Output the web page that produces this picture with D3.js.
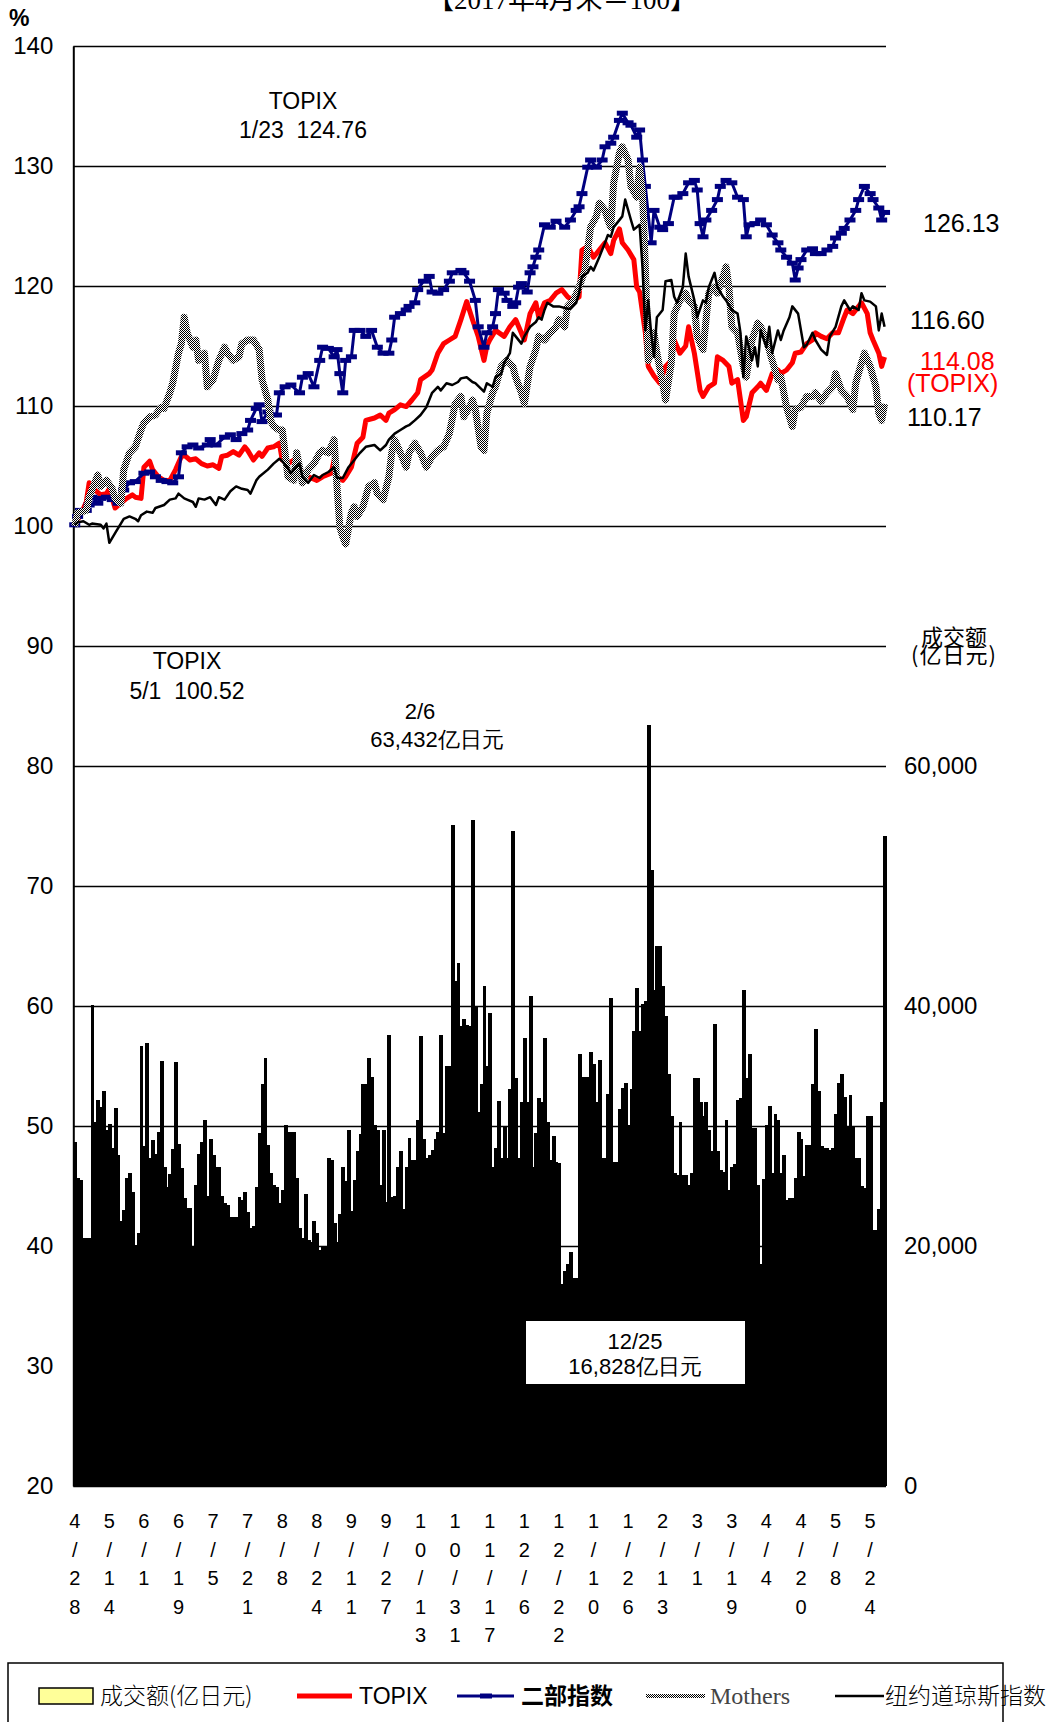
<!DOCTYPE html>
<html>
<head>
<meta charset="utf-8">
<style>
body { margin: 0; background: #fff; }
svg { display: block; }
text { font-family: "Liberation Sans", Arial, sans-serif; fill: #000; white-space: pre; }
.cjk { font-family: "Noto Sans CJK SC", sans-serif; }
.serif { font-family: "Liberation Serif", "Noto Sans CJK SC", serif; }
</style>
</head>
<body>
<div id="chart"></div>
<script src="https://d3js.org/d3.v7.min.js"></script>
<script>

// one label every 12 trading days, starting at day 0
var tickLabels = ["4/28","5/14","6/1","6/19","7/5","7/21","8/8","8/24","9/11","9/27",
  "10/13","10/31","11/17","12/6","12/22","1/10","1/26","2/13","3/1","3/19","4/4","4/20","5/8","5/24"];

// daily trading value (亿日元), day 0 .. 281
var volume = [
  28700,25700,25500,20700,20700,20700,40100,30300,32200,31600,
  32900,29700,30200,28200,31500,27600,22100,23000,25700,26100,
  24500,20100,21100,36700,28300,36900,27300,28800,27700,29500,
  35400,26600,24900,26000,28100,35300,28500,26500,24000,23200,
  23200,20000,25100,27700,28700,30500,24200,28900,27600,26600,
  26600,24200,23600,23400,22400,22400,22400,24100,23800,24500,
  22800,21500,21700,24900,29400,33500,35700,28400,26100,25100,
  24900,23600,24700,30100,29500,29500,29500,25700,21500,20700,
  24300,20500,20300,22100,21100,19700,19900,20000,27300,27200,
  21900,20300,22700,26600,25400,29700,22900,25500,27900,29300,
  33500,33500,35700,34100,30100,29700,25100,29700,23700,37600,
  24100,24200,26600,27900,23100,26600,29000,27200,27200,30500,
  37500,28900,27300,27600,28000,28900,29500,37600,29400,35000,
  35000,55100,42100,43600,38300,38900,38400,38300,55500,39900,
  31200,33500,41700,35000,39400,26600,28200,32100,27300,29900,
  27300,33100,54600,34000,27300,32000,37300,32000,40800,26600,
  29400,32300,32000,37300,30300,27200,29200,27000,26900,16828,
  17900,18500,19500,17300,17300,36000,34100,34100,34100,36200,
  35200,32000,35500,27300,27300,32700,40700,27000,27000,31400,
  33200,33600,30100,33100,37900,41500,37900,40200,40400,63432,
  51300,41300,45000,45000,41700,39200,34300,30800,26100,25900,
  30300,25900,25900,25100,26100,34000,34000,32000,30800,32000,
  29700,27900,38500,27900,26300,26200,30500,24700,26600,26800,
  32200,32300,41300,34000,36000,29800,29800,25100,18500,25600,
  30100,31700,26100,31000,30500,26100,27600,23800,24000,24000,
  25700,29500,28900,25800,28400,28400,33500,38100,32900,28300,
  28200,28200,28000,28200,31000,33600,34300,32400,30000,32600,
  30000,27300,27300,25000,24800,30800,30800,21300,21300,23100,
  32000,54200
];

// [day, index value] (2017年4月末=100)
var topix = [[0,100.0],[1,100.52],[2,100.9],[4,102.0],[5,103.6],[7,103.0],[9,102.6],[11,102.7],[12,103.1],[14,101.5],[16,101.9],[18,102.3],[20,102.6],[21,102.4],[23,102.3],[24,104.9],[26,105.4],[27,104.7],[29,104.1],[31,103.8],[33,103.8],[35,104.7],[37,105.8],[38,105.9],[40,105.5],[42,105.6],[44,105.2],[46,105.0],[48,105.1],[50,104.8],[51,105.8],[53,105.9],[55,106.2],[57,105.9],[59,106.6],[60,106.3],[62,105.5],[64,106.1],[65,105.8],[67,106.5],[69,106.6],[71,106.9],[72,105.5],[74,105.2],[76,105.5],[78,104.7],[80,104.25],[82,104.0],[84,103.8],[86,104.1],[89,104.4],[90,105.5],[91,104.1],[93,103.8],[94,104.1],[96,104.9],[98,106.9],[100,107.4],[101,108.8],[104,109.0],[106,109.25],[108,108.8],[109,109.4],[111,109.7],[113,110.1],[115,109.95],[117,110.5],[119,111.1],[120,112.2],[123,112.7],[124,113.0],[126,114.4],[128,115.2],[130,115.5],[132,115.8],[134,117.2],[136,118.7],[138,117.2],[140,115.8],[142,113.8],[143,115.0],[144,115.5],[146,116.3],[149,115.8],[151,116.6],[153,117.2],[156,115.5],[158,117.7],[160,118.6],[161,117.4],[163,118.6],[165,118.8],[167,119.4],[169,119.7],[171,119.1],[173,118.8],[175,119.1],[176,123.0],[178,123.3],[180,122.4],[182,123.0],[184,123.6],[186,122.7],[187,123.8],[189,124.76],[190,123.6],[192,123.0],[194,122.2],[195,119.9],[196,119.5],[198,116.1],[199,113.3],[201,112.5],[203,111.9],[205,113.3],[207,113.8],[208,115.5],[210,114.4],[212,115.0],[213,116.6],[215,114.4],[217,111.3],[218,110.8],[220,111.6],[222,111.9],[223,114.1],[225,113.8],[227,113.3],[228,111.9],[230,112.2],[232,108.8],[233,109.1],[235,111.1],[237,111.6],[238,111.9],[240,111.3],[242,112.7],[244,113.0],[245,112.7],[247,113.0],[249,113.6],[250,114.4],[252,114.5],[254,115.2],[256,115.5],[257,116.1],[259,115.8],[261,115.6],[263,116.1],[265,116.1],[267,117.4],[268,118.0],[270,117.7],[272,118.3],[273,118.6],[275,117.7],[276,116.1],[277,115.5],[279,114.4],[280,113.3],[281,114.08]];

var nibu = [[0,100.1],[1,100.8],[2,101.3],[4,101.3],[5,101.75],[6,102.4],[8,101.9],[9,102.3],[11,102.4],[13,102.2],[15,101.9],[17,103.0],[19,103.6],[21,103.7],[24,104.4],[26,104.5],[28,104.1],[30,103.8],[32,103.7],[34,103.6],[36,104.1],[37,106.1],[39,106.6],[41,106.75],[43,106.5],[46,106.75],[47,107.2],[49,106.75],[52,107.4],[54,107.6],[56,107.2],[58,107.7],[60,108.0],[61,108.8],[63,109.8],[64,110.1],[65,108.7],[67,109.5],[70,109.25],[71,111.1],[73,111.6],[75,111.75],[78,111.1],[79,112.4],[81,112.7],[83,111.6],[85,113.8],[86,114.9],[88,114.8],[90,114.1],[91,114.7],[92,112.7],[93,111.1],[94,113.8],[96,114.1],[97,116.3],[99,116.3],[101,115.8],[103,116.3],[105,114.9],[107,114.4],[109,114.4],[110,115.5],[111,117.4],[113,117.7],[115,118.0],[116,118.3],[118,118.6],[119,119.7],[121,120.4],[123,120.8],[124,119.5],[126,119.4],[128,119.7],[130,120.4],[131,121.1],[134,121.3],[135,121.1],[137,120.4],[139,118.8],[140,116.6],[142,114.9],[143,116.1],[145,116.6],[146,117.7],[147,119.7],[149,119.4],[150,118.8],[152,118.3],[153,118.6],[154,119.9],[155,120.2],[157,119.5],[158,121.1],[159,121.6],[160,122.4],[161,123.0],[163,125.1],[165,124.9],[167,125.4],[170,124.9],[172,125.5],[174,126.3],[175,126.6],[176,127.7],[178,129.9],[179,130.5],[181,129.9],[183,130.5],[184,131.6],[186,131.9],[187,132.4],[189,133.8],[190,134.4],[192,133.6],[193,133.4],[195,132.4],[196,133.0],[197,130.5],[198,128.3],[200,123.6],[201,126.3],[203,124.9],[204,124.7],[206,125.2],[208,127.4],[209,127.4],[211,127.7],[213,128.6],[215,128.8],[216,128.0],[217,125.2],[218,124.1],[219,125.5],[221,126.3],[223,127.2],[224,128.3],[226,128.8],[228,128.6],[230,127.4],[232,127.2],[233,124.1],[234,125.1],[236,125.2],[238,125.5],[240,125.1],[242,124.25],[244,123.6],[245,123.0],[247,122.4],[249,121.9],[250,120.5],[251,121.5],[252,122.2],[254,123.0],[256,123.1],[257,122.7],[259,122.7],[261,123.0],[263,123.3],[264,124.0],[266,124.4],[267,124.8],[269,125.5],[271,126.3],[272,127.2],[274,128.3],[276,127.7],[277,127.2],[279,126.5],[280,125.5],[281,126.13]];

var mothers = [[0,100.0],[1,101.1],[4,101.3],[5,102.4],[8,104.25],[9,103.3],[11,103.8],[13,103.1],[14,102.3],[16,101.9],[17,104.7],[19,106.1],[21,106.6],[23,108.0],[24,108.6],[26,109.1],[28,109.25],[30,109.9],[31,109.8],[33,111.1],[34,111.9],[36,114.4],[37,115.2],[38,117.4],[39,116.1],[41,114.9],[42,115.5],[43,113.8],[45,114.4],[46,111.6],[48,112.2],[50,113.8],[52,114.9],[53,114.4],[55,113.8],[57,114.1],[58,115.2],[60,115.5],[62,115.5],[64,114.7],[65,112.2],[67,110.5],[68,108.8],[69,108.3],[71,108.0],[72,108.0],[74,104.1],[76,103.8],[77,106.1],[78,104.9],[79,103.6],[81,104.7],[83,105.2],[85,106.1],[86,106.3],[88,106.1],[90,107.2],[91,103.3],[92,99.9],[93,99.1],[94,98.5],[96,101.1],[97,101.6],[98,100.8],[100,101.6],[102,103.3],[104,103.6],[105,102.7],[107,102.2],[109,104.1],[110,106.1],[111,107.2],[113,106.1],[115,104.9],[116,106.1],[118,106.9],[120,106.1],[122,104.9],[124,105.8],[126,106.3],[128,106.6],[130,107.7],[132,110.2],[134,110.8],[135,109.1],[137,109.9],[138,110.5],[139,109.7],[141,106.6],[142,106.3],[143,109.4],[145,111.1],[146,111.6],[148,113.3],[150,113.8],[152,113.3],[153,112.4],[155,111.1],[156,110.2],[158,113.3],[160,114.7],[161,115.8],[163,115.5],[165,116.1],[167,116.6],[168,117.2],[170,116.6],[171,118.3],[173,118.8],[175,119.9],[177,121.3],[179,124.9],[181,125.8],[182,126.9],[184,126.3],[185,125.5],[186,124.9],[187,128.6],[189,131.1],[190,131.6],[192,130.5],[193,128.3],[195,127.4],[196,129.9],[197,127.7],[198,121.6],[199,113.8],[200,114.4],[201,116.1],[202,114.4],[204,111.9],[205,110.5],[207,113.6],[208,117.7],[210,118.8],[212,119.4],[213,118.8],[215,118.3],[216,115.8],[218,114.7],[220,119.4],[222,119.9],[223,119.4],[225,120.8],[226,121.6],[227,119.9],[228,116.6],[230,116.1],[232,113.3],[233,112.4],[235,115.5],[237,116.9],[238,116.6],[240,115.5],[242,113.8],[244,112.2],[245,112.4],[247,109.9],[249,108.3],[250,109.7],[252,109.9],[254,110.8],[256,110.8],[257,111.1],[259,110.4],[261,111.1],[263,111.6],[264,112.7],[266,111.3],[268,110.8],[270,109.7],[271,111.9],[273,113.6],[274,114.4],[276,113.3],[278,111.6],[279,109.4],[280,108.8],[281,110.17]];

var dow = [[0,100.1],[1,100.3],[3,100.4],[5,100.1],[6,100.2],[9,100.1],[10,99.8],[11,100.2],[12,98.6],[14,99.4],[16,100.2],[17,100.6],[19,100.8],[21,100.6],[22,100.4],[23,100.9],[25,101.2],[27,101.1],[28,101.5],[31,101.75],[33,102.2],[35,102.3],[36,102.7],[38,102.3],[39,102.2],[41,102.0],[42,101.6],[43,102.3],[45,102.2],[47,102.4],[49,101.75],[50,102.4],[52,102.2],[54,102.9],[56,103.3],[58,103.1],[60,103.0],[61,102.7],[63,103.8],[64,104.1],[67,104.7],[69,105.2],[71,105.6],[72,105.4],[74,104.8],[75,104.4],[76,104.7],[78,105.2],[79,104.1],[81,103.6],[83,104.25],[85,104.0],[86,104.25],[88,104.5],[90,104.9],[91,104.0],[93,104.0],[95,104.9],[97,105.5],[99,106.1],[101,106.6],[104,106.75],[106,106.3],[108,106.75],[109,107.2],[111,107.7],[113,108.0],[115,108.3],[116,108.4],[118,108.8],[120,109.25],[122,109.9],[123,110.5],[124,111.1],[126,111.6],[127,111.3],[129,111.9],[131,111.75],[133,112.0],[134,112.3],[136,112.4],[138,112.0],[139,111.9],[142,111.2],[143,111.9],[145,111.6],[146,112.4],[148,112.7],[149,113.6],[151,114.4],[152,116.1],[153,115.8],[155,115.2],[156,115.8],[158,116.6],[160,117.0],[161,117.4],[162,117.2],[163,118.0],[164,118.6],[166,118.3],[168,118.3],[171,118.1],[172,118.1],[174,118.6],[175,119.4],[176,120.8],[178,121.1],[179,121.6],[180,121.3],[182,122.4],[184,123.6],[185,124.25],[186,124.1],[187,124.9],[188,125.2],[190,125.8],[191,127.2],[193,125.5],[194,124.7],[196,125.1],[197,121.6],[198,116.3],[199,118.8],[200,116.1],[201,114.1],[202,117.4],[204,118.0],[205,120.4],[207,120.5],[208,119.1],[209,118.6],[211,119.9],[212,122.7],[213,120.8],[215,118.8],[216,117.4],[218,118.8],[219,118.6],[220,119.9],[222,121.1],[223,119.9],[225,119.1],[226,118.8],[228,118.0],[230,117.7],[231,116.1],[232,112.4],[233,115.8],[235,113.8],[236,114.9],[237,113.3],[238,116.3],[240,114.9],[241,116.6],[242,114.4],[244,116.3],[245,115.5],[246,116.3],[248,117.4],[249,118.3],[251,117.7],[253,114.9],[254,115.1],[256,116.1],[257,115.5],[259,114.7],[261,114.25],[262,115.8],[264,116.6],[266,118.3],[267,118.8],[269,118.0],[270,118.3],[272,118.0],[273,119.4],[274,118.8],[276,118.7],[278,118.3],[279,116.3],[280,117.7],[281,116.6]];

var endLabels = [
  {text: "126.13", x: 923, y: 223, color: "#000"},
  {text: "116.60", x: 910, y: 320, color: "#000"},
  {text: "114.08", x: 920, y: 361, color: "#f00"},
  {text: "(TOPIX)", x: 907, y: 383, color: "#f00"},
  {text: "110.17", x: 907, y: 417, color: "#000"}
];

var width = 1057, height = 1722;
var plot = {left: 73.3, right: 886, top: 46, bottom: 1486};

var svg = d3.select("#chart").append("svg")
    .attr("width", width)
    .attr("height", height);

svg.append("rect").attr("width", width).attr("height", height).attr("fill", "#fff");

// checker pattern for the Mothers line
var pat = svg.append("defs").append("pattern")
    .attr("id", "checker")
    .attr("patternUnits", "userSpaceOnUse")
    .attr("width", 2).attr("height", 2);
pat.append("rect").attr("width", 2).attr("height", 2).attr("fill", "#fff");
pat.append("rect").attr("width", 1).attr("height", 1).attr("fill", "#000").attr("shape-rendering", "crispEdges");
pat.append("rect").attr("x", 1).attr("y", 1).attr("width", 1).attr("height", 1).attr("fill", "#000").attr("shape-rendering", "crispEdges");

// scales
var x = d3.scaleBand()
    .domain(d3.range(volume.length))
    .range([plot.left, plot.right])
    .padding(0);
var bw = x.bandwidth();
var y = d3.scaleLinear().domain([20, 140]).range([plot.bottom, plot.top]);
var yVol = d3.scaleLinear().domain([0, 120000]).range([plot.bottom, plot.top]);

// left axis with gridlines
var leftAxis = svg.append("g")
    .attr("transform", "translate(" + plot.left + ",0)")
    .call(d3.axisLeft(y)
      .tickValues(d3.range(20, 141, 10))
      .tickSize(-(plot.right - plot.left))
      .tickSizeOuter(0)
      .tickPadding(20));
leftAxis.selectAll(".tick line").attr("stroke", "#000").attr("stroke-width", 1.6);
leftAxis.select(".domain").attr("stroke", "#000").attr("stroke-width", 2);
leftAxis.selectAll("text").attr("font-size", 24).attr("font-family", "Liberation Sans, Arial, sans-serif");

svg.append("text").attr("x", 9).attr("y", 26).attr("font-size", 23).attr("font-weight", "bold").text("%");

// right axis (trading value)
var rightAxis = svg.append("g")
    .attr("transform", "translate(" + plot.right + ",0)")
    .call(d3.axisRight(yVol)
      .tickValues([0, 20000, 40000, 60000])
      .tickSize(0)
      .tickPadding(18)
      .tickFormat(d3.format(",")));
rightAxis.select(".domain").remove();
rightAxis.selectAll("text").attr("font-size", 24).attr("font-family", "Liberation Sans, Arial, sans-serif");

// volume bars
svg.append("g").attr("shape-rendering", "crispEdges").selectAll("rect")
    .data(volume)
  .enter().append("rect")
    .attr("x", function(d, i) { return x(i); })
    .attr("width", bw + 1)
    .attr("y", function(d) { return yVol(d); })
    .attr("height", function(d) { return plot.bottom - yVol(d); })
    .attr("fill", "#000");

// index lines
var line = d3.line()
    .x(function(d) { return x(d[0]) + bw / 2; })
    .y(function(d) { return y(d[1]); });

svg.append("path").datum(topix)
    .attr("d", line).attr("fill", "none")
    .attr("stroke", "#ff0000").attr("stroke-width", 5).attr("stroke-linejoin", "round");

svg.append("path").datum(nibu)
    .attr("d", line).attr("fill", "none")
    .attr("stroke", "#000080").attr("stroke-width", 3).attr("stroke-linejoin", "round");
svg.append("g").selectAll("rect")
    .data(nibu)
  .enter().append("rect")
    .attr("x", function(d) { return x(d[0]) + bw / 2 - 5.5; })
    .attr("y", function(d) { return y(d[1]) - 2.5; })
    .attr("width", 11).attr("height", 5)
    .attr("fill", "#000080");

svg.append("path").datum(mothers)
    .attr("d", line).attr("fill", "none")
    .attr("stroke", "url(#checker)").attr("stroke-width", 7).attr("stroke-linejoin", "round");

svg.append("path").datum(dow)
    .attr("d", line).attr("fill", "none")
    .attr("stroke", "#000").attr("stroke-width", 2.5).attr("stroke-linejoin", "round");

// x labels, one character per row
var xl = svg.append("g").selectAll("text")
    .data(tickLabels)
  .enter().append("text")
    .attr("font-size", 20)
    .attr("text-anchor", "middle");
xl.each(function(d, i) {
  var t = d3.select(this);
  d.split("").forEach(function(c, j) {
    t.append("tspan")
      .attr("x", x(i * 12) + bw / 2)
      .attr("y", 1528 + j * 28.5)
      .text(c);
  });
});

// title (clipped at top)
svg.append("text").attr("class", "serif")
    .attr("x", 562).attr("y", 9).attr("text-anchor", "middle")
    .attr("font-size", 27).text("【2017年4月末＝100】");

// annotations
function note(tx, ty, str, size) {
  svg.append("text").attr("x", tx).attr("y", ty).attr("dy", "0.35em")
    .attr("text-anchor", "middle").attr("font-size", size || 23)
    .attr("font-family", "Liberation Sans, Noto Sans CJK SC, sans-serif")
    .text(str);
}
note(303, 101, "TOPIX");
note(303, 130, "1/23  124.76");
note(187, 661, "TOPIX");
note(187, 691, "5/1  100.52");
note(420, 711, "2/6", 22);
note(437, 739, "63,432亿日元", 22);

svg.append("rect").attr("x", 526).attr("y", 1321).attr("width", 219).attr("height", 63).attr("fill", "#fff");
note(635, 1341, "12/25", 22);
note(635, 1366, "16,828亿日元", 22);

svg.append("text").attr("class", "cjk").attr("x", 954).attr("y", 637).attr("dy", "0.35em")
    .attr("text-anchor", "middle").attr("font-size", 22).text("成交额");
svg.append("text").attr("class", "cjk").attr("x", 954).attr("y", 655).attr("dy", "0.35em")
    .attr("text-anchor", "middle").attr("font-size", 22).attr("letter-spacing", 1).text("(亿日元)");

svg.append("g").selectAll("text")
    .data(endLabels)
  .enter().append("text")
    .attr("x", function(d) { return d.x; })
    .attr("y", function(d) { return d.y; })
    .attr("dy", "0.35em")
    .attr("font-size", 25)
    .style("fill", function(d) { return d.color; })
    .text(function(d) { return d.text; });

// legend
var lg = svg.append("g");
var ly = 1696;
lg.append("path").attr("d", "M8,1730V1663H1003V1730").attr("fill", "none").attr("stroke", "#000").attr("stroke-width", 1.5);
lg.append("rect").attr("x", 39).attr("y", ly - 8).attr("width", 54).attr("height", 16)
    .attr("fill", "#ffff99").attr("stroke", "#000").attr("stroke-width", 1.5);
lg.append("text").attr("class", "cjk").attr("x", 100).attr("y", ly).attr("dy", "0.35em")
    .attr("font-size", 23).attr("font-weight", 300).text("成交额(亿日元)");
lg.append("line").attr("x1", 297).attr("x2", 352).attr("y1", ly).attr("y2", ly)
    .attr("stroke", "#ff0000").attr("stroke-width", 5);
lg.append("text").attr("x", 359).attr("y", ly).attr("dy", "0.35em").attr("font-size", 23).text("TOPIX");
lg.append("line").attr("x1", 457).attr("x2", 514).attr("y1", ly).attr("y2", ly)
    .attr("stroke", "#000080").attr("stroke-width", 3);
lg.append("rect").attr("x", 480).attr("y", ly - 2.5).attr("width", 12).attr("height", 5).attr("fill", "#000080");
lg.append("text").attr("class", "cjk").attr("x", 521).attr("y", ly).attr("dy", "0.35em")
    .attr("font-size", 23).attr("font-weight", "bold").text("二部指数");
lg.append("line").attr("x1", 646).attr("x2", 705).attr("y1", ly).attr("y2", ly)
    .attr("stroke", "url(#checker)").attr("stroke-width", 4);
lg.append("text").attr("class", "serif").attr("x", 710).attr("y", ly).attr("dy", "0.35em")
    .attr("font-size", 24).style("fill", "#444").text("Mothers");
lg.append("line").attr("x1", 835).attr("x2", 884).attr("y1", ly).attr("y2", ly)
    .attr("stroke", "#000").attr("stroke-width", 2.5);
lg.append("text").attr("class", "cjk").attr("x", 885).attr("y", ly).attr("dy", "0.35em")
    .attr("font-size", 23).attr("font-weight", 300).text("纽约道琼斯指数");

</script>
</body>
</html>
